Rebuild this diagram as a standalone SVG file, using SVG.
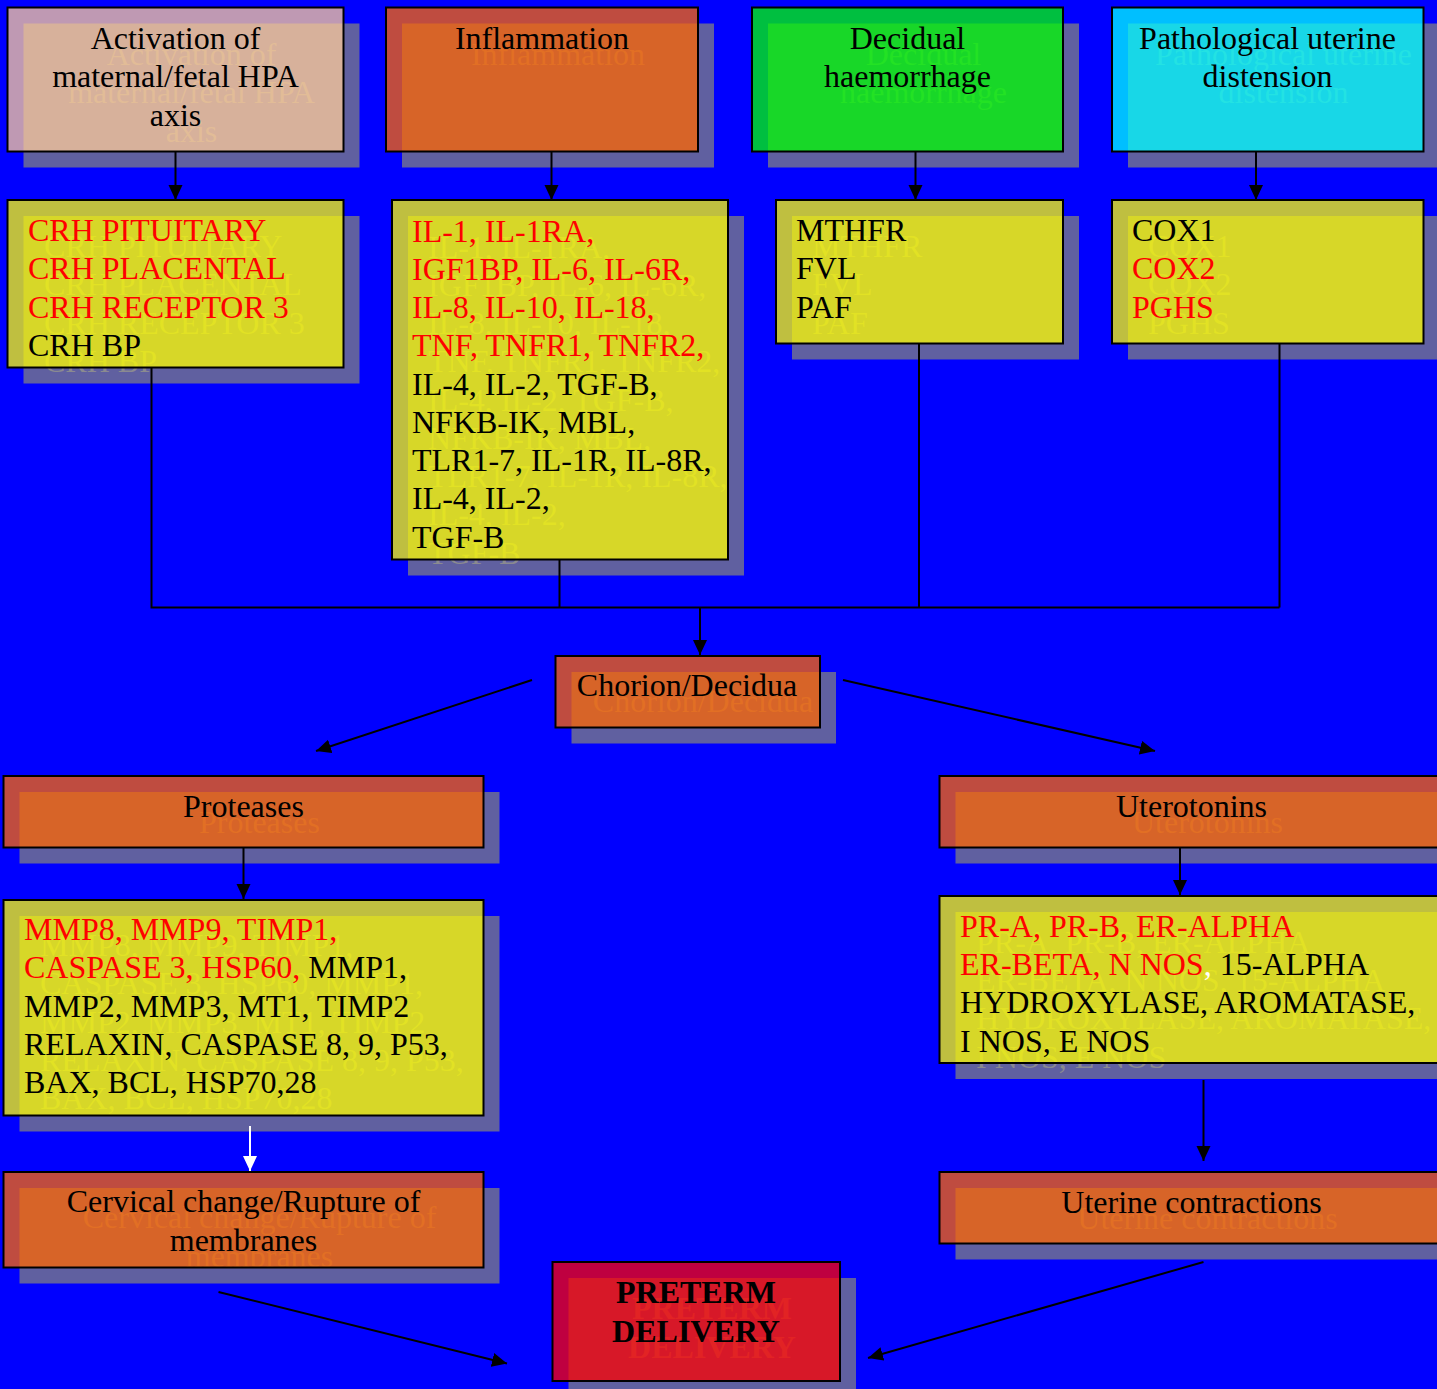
<svg xmlns="http://www.w3.org/2000/svg" width="1437" height="1389" viewBox="0 0 1437 1389">
<defs>
<style>
.sh{fill:#6060a0}
.st{fill:#8a8a90;font-family:"Liberation Serif","Times New Roman",serif;font-size:32px}
.bx{stroke:#000;stroke-width:2;fill-opacity:0.75}
.t{font-family:"Liberation Serif","Times New Roman",serif;font-size:32px;fill:#000}
.c{text-anchor:middle}
.b{font-weight:bold}
.red{fill:#ff0000}
.wh{fill:#ffffff}
.cn{stroke:#000;stroke-width:2;fill:none}
.cw{stroke:#fff;stroke-width:2;fill:none}
</style>
<marker id="ah" markerUnits="userSpaceOnUse" markerWidth="16" markerHeight="15" refX="15" refY="7" orient="auto">
<path d="M0,0 L15,7 L0,14 z" fill="#000"/>
</marker>
<marker id="ahw" markerUnits="userSpaceOnUse" markerWidth="16" markerHeight="15" refX="15" refY="7" orient="auto">
<path d="M0,0 L15,7 L0,14 z" fill="#fff"/>
</marker>
</defs>
<rect x="0" y="0" width="1437" height="1389" fill="#0000ff"/>

<g id="n-hpa">
<rect class="sh" x="23.5" y="23.5" width="336" height="144"/>
<text class="st c" x="191.5" y="64.5"><tspan x="191.5">Activation of</tspan><tspan x="191.5" dy="38.5">maternal/fetal HPA</tspan><tspan x="191.5" dy="38.5">axis</tspan></text>
<rect class="bx" x="7.5" y="7.5" width="336" height="144" fill="#ffcc99"/>
<text class="t c" x="175.5" y="48.5"><tspan x="175.5">Activation of</tspan><tspan x="175.5" dy="38.5">maternal/fetal HPA</tspan><tspan x="175.5" dy="38.5">axis</tspan></text>
</g>

<g id="n-inflammation">
<rect class="sh" x="402" y="23.5" width="312" height="144"/>
<text class="st c" x="558" y="64.5">Inflammation</text>
<rect class="bx" x="386" y="7.5" width="312" height="144" fill="#ff6600"/>
<text class="t c" x="542" y="48.5">Inflammation</text>
</g>

<g id="n-decidual">
<rect class="sh" x="768" y="23.5" width="311" height="144"/>
<text class="st c" x="923.5" y="64.5"><tspan x="923.5">Decidual</tspan><tspan x="923.5" dy="38.5">haemorrhage</tspan></text>
<rect class="bx" x="752" y="7.5" width="311" height="144" fill="#00ff00"/>
<text class="t c" x="907.5" y="48.5"><tspan x="907.5">Decidual</tspan><tspan x="907.5" dy="38.5">haemorrhage</tspan></text>
</g>

<g id="n-distension">
<rect class="sh" x="1128" y="23.5" width="311.5" height="144"/>
<text class="st c" x="1283.5" y="64.5"><tspan x="1283.5">Pathological uterine</tspan><tspan x="1283.5" dy="38.5">distension</tspan></text>
<rect class="bx" x="1112" y="7.5" width="311.5" height="144" fill="#00ffff"/>
<text class="t c" x="1267.5" y="48.5"><tspan x="1267.5">Pathological uterine</tspan><tspan x="1267.5" dy="38.5">distension</tspan></text>
</g>

<g id="n-crh">
<rect class="sh" x="23.5" y="216" width="336" height="167.5"/>
<text class="st" x="44" y="257"><tspan x="44">CRH PITUITARY</tspan><tspan x="44" dy="38.3">CRH PLACENTAL</tspan><tspan x="44" dy="38.3">CRH RECEPTOR 3</tspan><tspan x="44" dy="38.3">CRH BP</tspan></text>
<rect class="bx" x="7.5" y="200" width="336" height="167.5" fill="#ffff00"/>
<text class="t" x="28" y="241"><tspan x="28" class="red">CRH PITUITARY</tspan><tspan x="28" dy="38.3" class="red">CRH PLACENTAL</tspan><tspan x="28" dy="38.3" class="red">CRH RECEPTOR 3</tspan><tspan x="28" dy="38.3">CRH BP</tspan></text>
</g>

<g id="n-cytokines">
<rect class="sh" x="408" y="216" width="336" height="359.5"/>
<text class="st" x="428" y="257.5"><tspan x="428">IL-1, IL-1RA,</tspan><tspan x="428" dy="38.25">IGF1BP, IL-6, IL-6R,</tspan><tspan x="428" dy="38.25">IL-8, IL-10, IL-18,</tspan><tspan x="428" dy="38.25">TNF, TNFR1, TNFR2,</tspan><tspan x="428" dy="38.25">IL-4, IL-2, TGF-B,</tspan><tspan x="428" dy="38.25">NFKB-IK, MBL,</tspan><tspan x="428" dy="38.25">TLR1-7, IL-1R, IL-8R,</tspan><tspan x="428" dy="38.25">IL-4, IL-2,</tspan><tspan x="428" dy="38.25">TGF-B</tspan></text>
<rect class="bx" x="392" y="200" width="336" height="359.5" fill="#ffff00"/>
<text class="t" x="412" y="241.5"><tspan x="412" class="red">IL-1, IL-1RA,</tspan><tspan x="412" dy="38.25" class="red">IGF1BP, IL-6, IL-6R,</tspan><tspan x="412" dy="38.25" class="red">IL-8, IL-10, IL-18,</tspan><tspan x="412" dy="38.25" class="red">TNF, TNFR1, TNFR2,</tspan><tspan x="412" dy="38.25">IL-4, IL-2, TGF-B,</tspan><tspan x="412" dy="38.25">NFKB-IK, MBL,</tspan><tspan x="412" dy="38.25">TLR1-7, IL-1R, IL-8R,</tspan><tspan x="412" dy="38.25">IL-4, IL-2,</tspan><tspan x="412" dy="38.25">TGF-B</tspan></text>
</g>

<g id="n-mthfr">
<rect class="sh" x="792" y="216" width="287" height="143.5"/>
<text class="st" x="812" y="257"><tspan x="812">MTHFR</tspan><tspan x="812" dy="38.3">FVL</tspan><tspan x="812" dy="38.3">PAF</tspan></text>
<rect class="bx" x="776" y="200" width="287" height="143.5" fill="#ffff00"/>
<text class="t" x="796" y="241"><tspan x="796">MTHFR</tspan><tspan x="796" dy="38.3">FVL</tspan><tspan x="796" dy="38.3">PAF</tspan></text>
</g>

<g id="n-cox">
<rect class="sh" x="1128" y="216" width="311.5" height="143.5"/>
<text class="st" x="1148" y="257"><tspan x="1148">COX1</tspan><tspan x="1148" dy="38.3">COX2</tspan><tspan x="1148" dy="38.3">PGHS</tspan></text>
<rect class="bx" x="1112" y="200" width="311.5" height="143.5" fill="#ffff00"/>
<text class="t" x="1132" y="241"><tspan x="1132">COX1</tspan><tspan x="1132" dy="38.3" class="red">COX2</tspan><tspan x="1132" dy="38.3" class="red">PGHS</tspan></text>
</g>

<g id="n-chorion">
<rect class="sh" x="571.5" y="672" width="264.5" height="71.5"/>
<text class="st c" x="703" y="712">Chorion/Decidua</text>
<rect class="bx" x="555.5" y="656" width="264.5" height="71.5" fill="#ff6600"/>
<text class="t c" x="687" y="696">Chorion/Decidua</text>
</g>

<g id="n-proteases">
<rect class="sh" x="19.5" y="792" width="480" height="71.5"/>
<text class="st c" x="259.5" y="833">Proteases</text>
<rect class="bx" x="3.5" y="776" width="480" height="71.5" fill="#ff6600"/>
<text class="t c" x="243.5" y="817">Proteases</text>
</g>

<g id="n-uterotonins">
<rect class="sh" x="955.5" y="792" width="504" height="71.5"/>
<text class="st c" x="1207.5" y="833">Uterotonins</text>
<rect class="bx" x="939.5" y="776" width="504" height="71.5" fill="#ff6600"/>
<text class="t c" x="1191.5" y="817">Uterotonins</text>
</g>

<g id="n-mmp">
<rect class="sh" x="19.5" y="916" width="480" height="215.5"/>
<text class="st" x="40" y="956"><tspan x="40">MMP8, MMP9, TIMP1,</tspan><tspan x="40" dy="38.3">CASPASE 3, HSP60, MMP1,</tspan><tspan x="40" dy="38.3">MMP2, MMP3, MT1, TIMP2</tspan><tspan x="40" dy="38.3">RELAXIN, CASPASE 8, 9, P53,</tspan><tspan x="40" dy="38.3">BAX, BCL, HSP70,28</tspan></text>
<rect class="bx" x="3.5" y="900" width="480" height="215.5" fill="#ffff00"/>
<text class="t" x="24" y="940"><tspan x="24" class="red">MMP8, MMP9, TIMP1,</tspan><tspan x="24" dy="38.3"><tspan class="red">CASPASE 3, HSP60,</tspan> MMP1,</tspan><tspan x="24" dy="38.3">MMP2, MMP3, MT1, TIMP2</tspan><tspan x="24" dy="38.3">RELAXIN, CASPASE 8, 9, P53,</tspan><tspan x="24" dy="38.3">BAX, BCL, HSP70,28</tspan></text>
</g>

<g id="n-receptors">
<rect class="sh" x="955.5" y="912" width="504" height="167"/>
<text class="st" x="976" y="953"><tspan x="976">PR-A, PR-B, ER-ALPHA</tspan><tspan x="976" dy="38.2">ER-BETA, N NOS, 15-ALPHA</tspan><tspan x="976" dy="38.2">HYDROXYLASE, AROMATASE,</tspan><tspan x="976" dy="38.2">I NOS, E NOS</tspan></text>
<rect class="bx" x="939.5" y="896" width="504" height="167" fill="#ffff00"/>
<text class="t" x="960" y="937"><tspan x="960" class="red">PR-A, PR-B, ER-ALPHA</tspan><tspan x="960" dy="38.2"><tspan class="red">ER-BETA, N NOS</tspan><tspan class="wh">,</tspan> 15-ALPHA</tspan><tspan x="960" dy="38.2">HYDROXYLASE, AROMATASE,</tspan><tspan x="960" dy="38.2">I NOS, E NOS</tspan></text>
</g>

<g id="n-cervical">
<rect class="sh" x="19.5" y="1188" width="480" height="95.5"/>
<text class="st c" x="259.5" y="1228"><tspan x="259.5">Cervical change/Rupture of</tspan><tspan x="259.5" dy="38.5">membranes</tspan></text>
<rect class="bx" x="3.5" y="1172" width="480" height="95.5" fill="#ff6600"/>
<text class="t c" x="243.5" y="1212"><tspan x="243.5">Cervical change/Rupture of</tspan><tspan x="243.5" dy="38.5">membranes</tspan></text>
</g>

<g id="n-contractions">
<rect class="sh" x="955.5" y="1188" width="504" height="71.5"/>
<text class="st c" x="1207.5" y="1229">Uterine contractions</text>
<rect class="bx" x="939.5" y="1172" width="504" height="71.5" fill="#ff6600"/>
<text class="t c" x="1191.5" y="1213">Uterine contractions</text>
</g>

<g id="n-preterm">
<rect class="sh" x="568.5" y="1278" width="287.5" height="119"/>
<text class="st c b" x="712" y="1319"><tspan x="712">PRETERM</tspan><tspan x="712" dy="38.5">DELIVERY</tspan></text>
<rect class="bx" x="552.5" y="1262" width="287.5" height="119" fill="#ff0000"/>
<text class="t c b" x="696" y="1303"><tspan x="696">PRETERM</tspan><tspan x="696" dy="38.5">DELIVERY</tspan></text>
</g>

<g id="connectors">
<line class="cn" x1="175.5" y1="151.5" x2="175.5" y2="200" marker-end="url(#ah)"/>
<line class="cn" x1="551.5" y1="151.5" x2="551.5" y2="200" marker-end="url(#ah)"/>
<line class="cn" x1="915.5" y1="151.5" x2="915.5" y2="200" marker-end="url(#ah)"/>
<line class="cn" x1="1256" y1="151.5" x2="1256" y2="200" marker-end="url(#ah)"/>
<polyline class="cn" points="151.5,367.5 151.5,607.5 1279.5,607.5"/>
<line class="cn" x1="559.5" y1="559.5" x2="559.5" y2="607.5"/>
<line class="cn" x1="919" y1="343.5" x2="919" y2="607.5"/>
<line class="cn" x1="1279.5" y1="343.5" x2="1279.5" y2="607.5"/>
<line class="cn" x1="700" y1="607.5" x2="700" y2="655" marker-end="url(#ah)"/>
<line class="cn" x1="532" y1="680" x2="316" y2="751" marker-end="url(#ah)"/>
<line class="cn" x1="843" y1="680" x2="1155" y2="751" marker-end="url(#ah)"/>
<line class="cn" x1="243.5" y1="847.5" x2="243.5" y2="899" marker-end="url(#ah)"/>
<line class="cn" x1="1180" y1="847.5" x2="1180" y2="895" marker-end="url(#ah)"/>
<line class="cw" x1="250" y1="1126" x2="250" y2="1171" marker-end="url(#ahw)"/>
<line class="cn" x1="1203.5" y1="1080" x2="1203.5" y2="1161" marker-end="url(#ah)"/>
<line class="cn" x1="218.5" y1="1292" x2="507" y2="1363.5" marker-end="url(#ah)"/>
<line class="cn" x1="1203.5" y1="1262" x2="868" y2="1358" marker-end="url(#ah)"/>
</g>
</svg>
